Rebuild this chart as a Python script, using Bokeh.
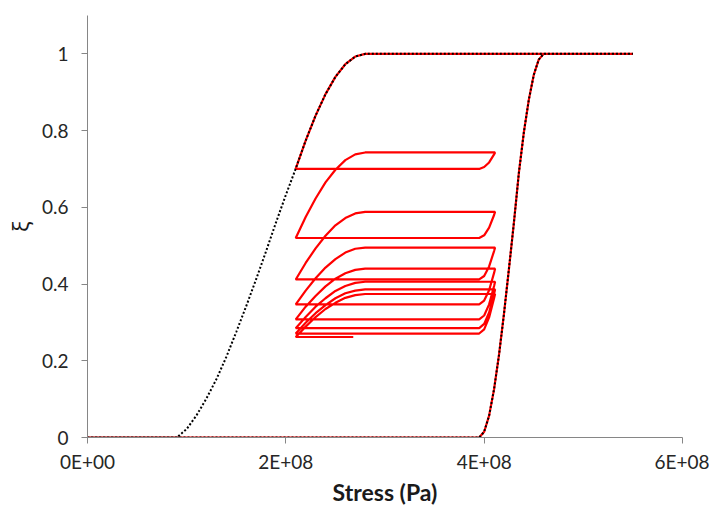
from bokeh.plotting import figure
from bokeh.models import Range1d, FixedTicker
from bokeh.embed import file_html
from bokeh.resources import INLINE

# ---------------- data (stress in units of 1E+08 Pa) ----------------
x_ticks = [0, 200000000, 400000000, 600000000]
x_tick_labels = ["0E+00", "2E+08", "4E+08", "6E+08"]
y_ticks = [0, 0.2, 0.4, 0.6, 0.8, 1]
y_tick_labels = ["0", "0.2", "0.4", "0.6", "0.8", "1"]

# full loading branch (xi = 0 -> 1)
load_stress = [0, 3.95, 4.0, 4.05, 4.1, 4.15, 4.2, 4.25, 4.3, 4.35, 4.4, 4.45, 4.5, 4.55, 4.6, 5.5]
load_xi = [0, 0, 0.015, 0.057, 0.126, 0.216, 0.323, 0.440, 0.560, 0.690, 0.795, 0.880, 0.945, 0.985, 1, 1]

# full unloading branch (xi = 1 -> 0)
unload_stress = [5.5, 2.8, 2.7, 2.6, 2.5, 2.4, 2.3, 2.2, 2.1, 2.0, 1.9, 1.8, 1.7, 1.6,
                 1.5, 1.4, 1.3, 1.2, 1.1, 1.0, 0.9, 0]
unload_xi = [1, 1, 0.993, 0.973, 0.940, 0.895, 0.839, 0.774, 0.701, 0.632, 0.560, 0.485, 0.412,
             0.342, 0.275, 0.210, 0.152, 0.102, 0.058, 0.022, 0, 0]

# partial cycles between 2.1E+08 and 4.11E+08 Pa
cycle_reload_stress = [2.1, 3.95, 4.0, 4.05, 4.1, 4.11]
cycle_unload_stress = [4.11, 2.8, 2.7, 2.6, 2.5, 2.4, 2.3, 2.2, 2.1]
cycle_reload_xi = [
    [0.700, 0.700, 0.705, 0.717, 0.738, 0.743],
    [0.520, 0.520, 0.527, 0.547, 0.580, 0.588],
    [0.412, 0.412, 0.421, 0.446, 0.486, 0.495],
    [0.347, 0.347, 0.357, 0.384, 0.429, 0.440],
    [0.308, 0.308, 0.318, 0.347, 0.395, 0.406],
    [0.285, 0.285, 0.296, 0.326, 0.375, 0.386],
    [0.271, 0.271, 0.282, 0.313, 0.363, 0.374],
]
cycle_unload_xi = [
    [0.743, 0.743, 0.738, 0.723, 0.698, 0.665, 0.623, 0.575, 0.520],
    [0.588, 0.588, 0.584, 0.572, 0.553, 0.526, 0.493, 0.455, 0.412],
    [0.495, 0.495, 0.492, 0.482, 0.465, 0.443, 0.415, 0.383, 0.347],
    [0.440, 0.440, 0.437, 0.428, 0.414, 0.394, 0.369, 0.341, 0.308],
    [0.406, 0.406, 0.403, 0.395, 0.382, 0.363, 0.341, 0.314, 0.285],
    [0.386, 0.386, 0.383, 0.376, 0.363, 0.345, 0.324, 0.299, 0.271],
    [0.374, 0.374, 0.371, 0.364, 0.351, 0.335, 0.314, 0.289, 0.262],
]
final_stress = [2.1, 2.68]
final_xi = [0.262, 0.262]

SCALE = 1e8

# ---------------- build paths ----------------
red_s = list(load_stress) + unload_stress[:9]
red_x = list(load_xi) + unload_xi[:9]
for rx, ux in zip(cycle_reload_xi, cycle_unload_xi):
    red_s += cycle_reload_stress + cycle_unload_stress
    red_x += rx + ux
red_s += final_stress
red_x += final_xi
red_s = [s * SCALE for s in red_s]

blk_s = [s * SCALE for s in (load_stress + unload_stress)]
blk_x = load_xi + unload_xi

# ---------------- figure ----------------
p = figure(width=709, height=510, output_backend="svg", toolbar_location=None,
           x_range=Range1d(0, 6e8), y_range=Range1d(0, 1.1),
           min_border_left=87, min_border_right=27, min_border_top=15, min_border_bottom=73)
p.outline_line_color = None
p.grid.visible = False
p.background_fill_color = "white"
p.border_fill_color = "white"

p.line(red_s, red_x, line_color="#FF0000", line_width=2.2)
p.line(blk_s, blk_x, line_color="black", line_width=2, line_dash="2 2")

axis_gray = "#868686"
for ax in (p.xaxis[0], p.yaxis[0]):
    ax.axis_line_color = axis_gray
    ax.major_tick_line_color = axis_gray
    ax.minor_tick_line_color = None
    ax.major_tick_in = 0
    ax.major_tick_out = 6
    ax.major_label_text_font = "Lato"
    ax.major_label_text_font_size = "19px"
    ax.major_label_text_color = "#262626"

p.xaxis[0].ticker = FixedTicker(ticks=x_ticks)
p.xaxis[0].major_label_overrides = dict(zip(x_ticks, x_tick_labels))
p.xaxis[0].major_label_standoff = 6
p.xaxis[0].axis_label = "Stress (Pa)"
p.xaxis[0].axis_label_text_font = "Lato"
p.xaxis[0].axis_label_text_font_style = "bold"
p.xaxis[0].axis_label_text_font_size = "23px"
p.xaxis[0].axis_label_text_color = "#1a1a1a"
p.xaxis[0].axis_label_standoff = 2

p.yaxis[0].ticker = FixedTicker(ticks=y_ticks)
p.yaxis[0].major_label_overrides = dict(zip(y_ticks, y_tick_labels))
p.yaxis[0].major_label_standoff = 13
p.yaxis[0].axis_label = "ξ"
p.yaxis[0].axis_label_text_font = "Noto Sans"
p.yaxis[0].axis_label_text_font_style = "normal"
p.yaxis[0].axis_label_text_font_size = "22px"
p.yaxis[0].axis_label_text_color = "#1a1a1a"
p.yaxis[0].axis_label_standoff = 4

open("out.html", "w").write(file_html(p, INLINE))
